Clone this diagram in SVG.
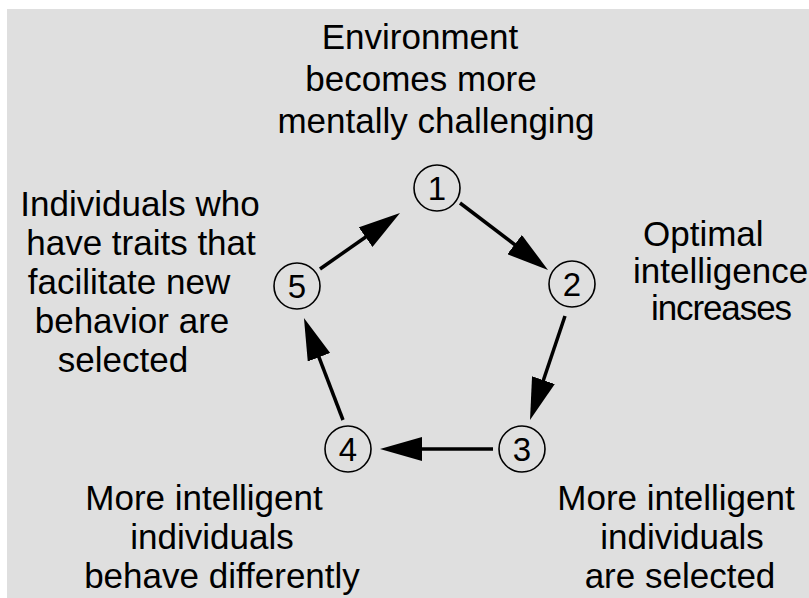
<svg xmlns="http://www.w3.org/2000/svg" width="809" height="598" viewBox="0 0 809 598">
<style>
text{font-family:"Liberation Sans",Arial,sans-serif;font-size:35px;fill:#000}
.c{text-anchor:middle}
.n circle{fill:none;stroke:#000;stroke-width:1.6}
.n text{font-size:33px;text-anchor:middle}
.e{stroke:#000;stroke-width:3.5;fill:none;marker-end:url(#ah)}
</style>
<defs>
<marker id="ah" markerUnits="userSpaceOnUse" viewBox="0 -12 42 24" markerWidth="42" markerHeight="24" refX="22" refY="0" orient="auto">
<path d="M0,-12 L42,0 L0,12 Z" fill="#000"/>
</marker>
</defs>
<rect width="809" height="598" fill="#fff"/>
<rect x="7" y="9" width="802" height="589" fill="#dfdfdf"/>

<g id="label-top">
<text class="c" x="420" y="49">Environment</text>
<text class="c" x="421" y="91">becomes more</text>
<text class="c" x="436" y="133">mentally challenging</text>
</g>
<g id="label-right">
<text x="643" y="246">Optimal</text>
<text x="633" y="283">intelligence</text>
<text x="651" y="320" textLength="141" lengthAdjust="spacing">increases</text>
</g>
<g id="label-left">
<text class="c" x="140" y="216">Individuals who</text>
<text class="c" x="141" y="255">have traits that</text>
<text class="c" x="129" y="294">facilitate new</text>
<text class="c" x="132" y="333">behavior are</text>
<text class="c" x="123" y="372">selected</text>
</g>
<g id="label-bottom-left">
<text class="c" x="204" y="510">More intelligent</text>
<text class="c" x="212" y="549">individuals</text>
<text class="c" x="222" y="588">behave differently</text>
</g>
<g id="label-bottom-right">
<text class="c" x="676" y="510">More intelligent</text>
<text class="c" x="682" y="549">individuals</text>
<text class="c" x="680" y="588">are selected</text>
</g>

<g id="node1" class="n"><circle cx="437" cy="188" r="23"/><text x="437" y="200">1</text></g>
<g id="node2" class="n"><circle cx="572" cy="284" r="23"/><text x="572" y="296">2</text></g>
<g id="node3" class="n"><circle cx="522" cy="449" r="23"/><text x="522" y="461">3</text></g>
<g id="node4" class="n"><circle cx="348" cy="449" r="23"/><text x="348" y="461">4</text></g>
<g id="node5" class="n"><circle cx="297" cy="286" r="23"/><text x="297" y="298">5</text></g>

<g id="connectors">
<line class="e" x1="460" y1="203" x2="532.1" y2="257.9"/>
<line class="e" x1="565" y1="316" x2="536.4" y2="401"/>
<line class="e" x1="493" y1="449" x2="400" y2="449"/>
<line class="e" x1="343" y1="420" x2="311.1" y2="336.7"/>
<line class="e" x1="320" y1="269" x2="383.6" y2="224.5"/>
</g>
</svg>
